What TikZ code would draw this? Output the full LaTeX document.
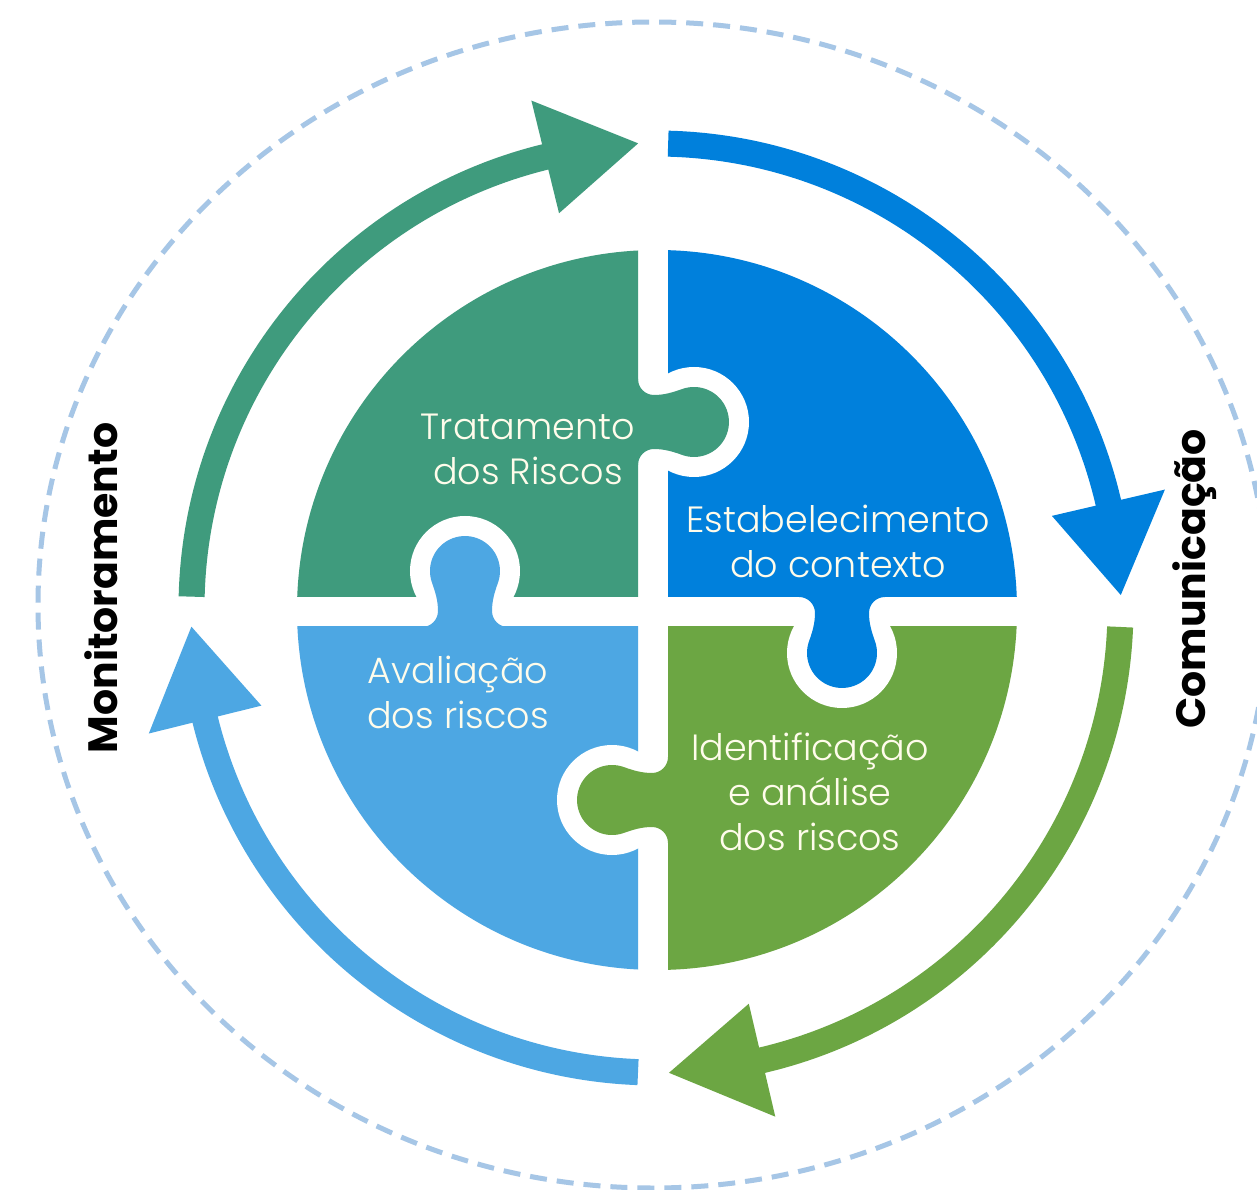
\documentclass[tikz,border=0pt]{standalone}
\usepackage{fontspec}
\setmainfont{Poppins}
\IfFontExistsTF{Poppins Light}{\newfontfamily\pzfont{Poppins Light}}{\newfontfamily\pzfont{Poppins}}
\definecolor{cgreen}{HTML}{3F9B7D}
\definecolor{cblue}{HTML}{0080DC}
\definecolor{clblue}{HTML}{4DA7E3}
\definecolor{clgreen}{HTML}{6CA643}
\definecolor{cdash}{HTML}{A6C6E6}
\definecolor{ctext}{HTML}{FFFCEB}
\newcommand\puzknob[3]{%
  \begin{scope}[shift={(#1)},rotate=#2]
    \fill[white] (0,56) circle[radius=55];
    \fill[#3] (-43,-8) -- (-43,0) arc[start angle=270,end angle=360,radius=16]
      .. controls (-27,26) and (-29.5,34.6) .. (-32.9,44.0)
      arc[start angle=200,end angle=-20,radius=35]
      .. controls (29.5,34.6) and (27,26) .. (27,16)
      arc[start angle=180,end angle=270,radius=16]
      -- (43,-8) -- cycle;
  \end{scope}}
\begin{document}
\begin{tikzpicture}[x=1pt,y=1pt,
  ringarc/.style={line width=26pt},
  sidelbl/.style={font=\fontsize{41}{50}\selectfont\bfseries, text=black, rotate=90, anchor=base, inner sep=0pt},
  ptxt/.style={font=\pzfont\fontsize{36.5}{45}\selectfont, text=ctext, align=center, inner sep=0pt},
]
\fill[white] (-656,-582) rectangle (601,608);
\useasboundingbox (-656,-582) rectangle (601,608);

% dashed outer ellipse
\draw[cdash, line width=5pt, dash pattern=on 17pt off 10pt] (-3,3) ellipse[x radius=615, y radius=583];

% ring arrows
\draw[ringarc, cgreen] (178.6:464.5) arc[start angle=178.6, end angle=102.5, radius=464.5];
\fill[cgreen] (103.8:522.5) -- (92.2:465) -- (103.8:406.5) -- cycle;

\draw[ringarc, cblue] (88.5:464.5) arc[start angle=88.5, end angle=11.8, radius=464.5];
\fill[cblue] (13.1:522.5) -- (1.6:465) -- (13.1:406.5) -- cycle;

\draw[ringarc, clgreen] (-2.34:464.5) arc[start angle=-2.34, end angle=-78.1, radius=464.5];
\fill[clgreen] (-76.8:522.5) -- (-88.4:465) -- (-76.8:406.5) -- cycle;

\draw[ringarc, clblue] (267.78:464.5) arc[start angle=267.78, end angle=192.6, radius=464.5];
\fill[clblue] (193.9:522.5) -- (182.3:465) -- (193.9:406.5) -- cycle;

% puzzle pieces
\begin{scope}\clip (-18,11) rectangle (-400,400); \fill[cgreen] (1,-2) circle[radius=360];\end{scope}
\begin{scope}\clip (12,11) rectangle (400,400); \fill[cblue] (1,-2) circle[radius=360];\end{scope}
\begin{scope}\clip (-18,-19) rectangle (-400,-400); \fill[clblue] (1,-2) circle[radius=360];\end{scope}
\begin{scope}\clip (12,-19) rectangle (400,-400); \fill[clgreen] (1,-2) circle[radius=360];\end{scope}

% knobs
\puzknob{-191,-19}{0}{clblue}
\puzknob{-18,186}{-90}{cgreen}
\puzknob{186,11}{180}{cblue}
\puzknob{12,-192}{90}{clgreen}

% texts
\node[ptxt] (trat) at (-128,158.5) {Tratamento\\dos Riscos};
\node[ptxt] (estab) at (182,66.5) {Estabelecimento\\do contexto};
\node[ptxt] (aval) at (-198,-84) {Avaliação\\dos riscos};
\node[ptxt] (ident) at (154,-183.5) {Identificação\\e análise\\dos riscos};

\node[sidelbl] (monit) at (-538,20) {Monitoramento};
\node[sidelbl] (comun) at (549,29) {Comunicação};
\end{tikzpicture}
\end{document}
